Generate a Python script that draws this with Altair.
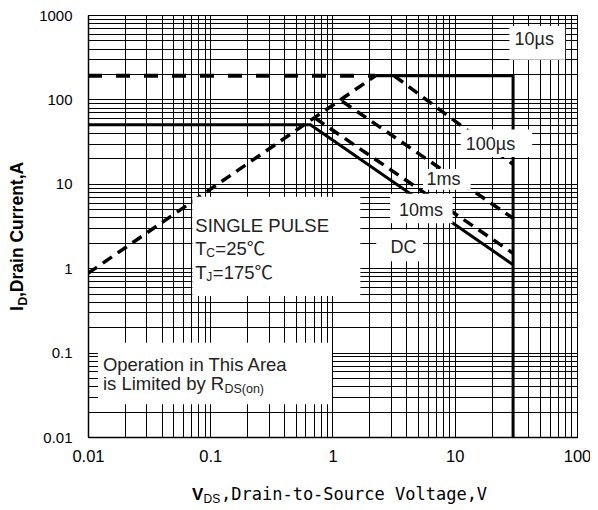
import altair as alt
import pandas as pd

# ---------------- data (V_DS in V, I_D in A) ----------------
# solid curves
pulse10us_v = [2.24, 30, 30]
pulse10us_i = [190, 190, 0.01]
dc_v = [0.01, 0.66, 30]
dc_i = [50, 50, 1.1]
# dashed curves
limit_v = [0.01, 2.24]
limit_i = [190, 190]
rds_v = [0.01, 2.24]
rds_i = [0.87, 190]
pulse100us_v = [3.2, 30]
pulse100us_i = [190, 17]
pulse1ms_v = [1.2, 30]
pulse1ms_i = [95, 3.9]
pulse10ms_v = [0.72, 30]
pulse10ms_i = [60, 1.5]

# curve labels
curve_labels = ["10µs", "100µs", "1ms", "10ms", "DC"]
curve_label_v = [44.7, 19.6, 8.1, 5.3, 3.8]
curve_label_i = [508, 28.8, 11.1, 4.7, 1.72]

# white label backgrounds (covering the grid)
box_v1 = [28, 11.2, 5.5, 2.96, 2.28, 0.0714, 0.01205]
box_v2 = [80, 43, 13.5, 9.6, 5.5, 1.69, 0.99]
box_i1 = [295, 20.8, 8.5, 3.4, 1.21, 0.469, 0.0244]
box_i2 = [743, 44, 15, 7.6, 2.88, 7.03, 0.131]

# axis decades
x_decades = [0.01, 0.1, 1, 10, 100]
y_decades = [0.01, 0.1, 1, 10, 100, 1000]
mantissas = [1, 2, 3, 4, 5, 6, 7, 8, 9]

x_grid = [round(m * d, 6) for d in x_decades[:-1] for m in mantissas] + [x_decades[-1]]
y_grid = [round(m * d, 6) for d in y_decades[:-1] for m in mantissas] + [y_decades[-1]]

FONT = "Liberation Sans, Arial, Noto Sans CJK JP, sans-serif"
TXT = "#222"


def curve_rows(name, vs, ys):
    return [{"curve": name, "v": v, "i": i, "order": k} for k, (v, i) in enumerate(zip(vs, ys))]


solid_df = pd.DataFrame(curve_rows("10µs", pulse10us_v, pulse10us_i) + curve_rows("DC", dc_v, dc_i))
dashed_df = pd.DataFrame(
    curve_rows("RDS", rds_v, rds_i)
    + curve_rows("100µs", pulse100us_v, pulse100us_i)
    + curve_rows("1ms", pulse1ms_v, pulse1ms_i)
    + curve_rows("10ms", pulse10ms_v, pulse10ms_i)
)
limit_df = pd.DataFrame(curve_rows("limit", limit_v, limit_i))
label_df = pd.DataFrame({"text": curve_labels, "v": curve_label_v, "i": curve_label_i})
box_df = pd.DataFrame({"v": box_v1, "v2": box_v2, "i": box_i1, "i2": box_i2})

label_expr = "abs(log(datum.value)/LN10 - round(log(datum.value)/LN10)) < 0.001 ? format(datum.value, '~g') : ''"

x_axis = alt.Axis(values=x_grid, grid=True, gridColor="#000", gridOpacity=1, gridWidth=1,
                  ticks=False, domain=True, domainColor="#000", domainWidth=1.5,
                  labelExpr=label_expr, labelFont=FONT, labelFontSize=16.5, labelColor="#000",
                  labelPadding=11, labelOverlap=False, labelFlush=False, title=None)
y_axis = alt.Axis(values=y_grid, grid=True, gridColor="#000", gridOpacity=1, gridWidth=1,
                  ticks=False, domain=True, domainColor="#000", domainWidth=1.5,
                  labelExpr=label_expr, labelFont=FONT, labelFontSize=15, labelColor="#000",
                  labelPadding=16, labelOverlap=False, labelFlush=False, title=None)
x_scale = alt.Scale(type="log", domain=[0.01, 100])
y_scale = alt.Scale(type="log", domain=[0.01, 1000])


def X(field="v"):
    return alt.X(f"{field}:Q", scale=x_scale, axis=x_axis)


def Y(field="i"):
    return alt.Y(f"{field}:Q", scale=y_scale, axis=y_axis)


def note(df, text, size=18.5, dx=0, dy=0):
    return alt.Chart(df).mark_text(font=FONT, fontSize=size, color=TXT, align="left", baseline="middle",
                                   text=text, dx=dx, dy=dy).encode(x=X(), y=Y())


solid = alt.Chart(solid_df).mark_line(color="#000", strokeWidth=3, clip=True).encode(
    x=X(), y=Y(), detail="curve:N", order="order:Q")
dashed = alt.Chart(dashed_df).mark_line(color="#000", strokeWidth=3.5, strokeDash=[11, 7], clip=True).encode(
    x=X(), y=Y(), detail="curve:N", order="order:Q")
limit = alt.Chart(limit_df).mark_line(color="#000", strokeWidth=4, strokeDash=[14, 14], clip=True).encode(
    x=X(), y=Y(), order="order:Q")

boxes = alt.Chart(box_df).mark_rect(color="white", opacity=1).encode(
    x=X(), x2="v2:Q", y=Y(), y2="i2:Q")

labels = alt.Chart(label_df).mark_text(font=FONT, fontSize=18, color=TXT, align="center", baseline="middle").encode(
    x=X(), y=Y(), text="text:N")

# SINGLE PULSE block
sp_df = pd.DataFrame({"v": [0.0755], "i": [3.12]})
tc_df = pd.DataFrame({"v": [0.0755], "i": [1.7]})
tj_df = pd.DataFrame({"v": [0.0755], "i": [0.873]})
sp_text = note(sp_df, "SINGLE PULSE")
tc_T = note(tc_df, "T")
tc_sub = note(tc_df, "C", size=12, dx=11, dy=4)
tc_rest = note(tc_df, "=25℃", dx=20)
tj_T = note(tj_df, "T")
tj_sub = note(tj_df, "J", size=12, dx=11, dy=4)
tj_rest = note(tj_df, "=175℃", dx=17.5)

# Operation area note
op_df = pd.DataFrame({"v": [0.01324], "i": [0.0722]})
lim_df = pd.DataFrame({"v": [0.01324], "i": [0.042]})
op_text = note(op_df, "Operation in This Area")
lim_text = note(lim_df, "is Limited by R")
lim_sub = note(lim_df, "DS(on)", size=12.5, dx=121.5, dy=5)

# axis titles built from pieces (for subscripts)
dummy = pd.DataFrame({"a": [0]})
yt_I = alt.Chart(dummy).mark_text(font=FONT, fontSize=17.5, fontWeight="bold", color="#000", angle=270,
                                  align="left", baseline="middle").encode(
    text=alt.value("I"), x=alt.value(-70), y=alt.value(296))
yt_D = alt.Chart(dummy).mark_text(font=FONT, fontSize=12, fontWeight="bold", color="#000", angle=270,
                                  align="left", baseline="middle").encode(
    text=alt.value("D"), x=alt.value(-65), y=alt.value(290.5))
yt_rest = alt.Chart(dummy).mark_text(font=FONT, fontSize=17.5, fontWeight="bold", color="#000", angle=270,
                                     align="left", baseline="middle").encode(
    text=alt.value(",Drain Current,A"), x=alt.value(-70), y=alt.value(282))

xt_V = alt.Chart(dummy).mark_text(font=FONT, fontSize=17, fontWeight="bold", color="#000",
                                  align="left", baseline="middle").encode(
    text=alt.value("V"), x=alt.value(104), y=alt.value(480))
xt_DS = alt.Chart(dummy).mark_text(font=FONT, fontSize=12, color="#000",
                                   align="left", baseline="middle").encode(
    text=alt.value("DS"), x=alt.value(115.5), y=alt.value(484))
xt_rest = alt.Chart(dummy).mark_text(font="DejaVu Sans Mono", fontSize=17, color="#000",
                                     align="left", baseline="middle").encode(
    text=alt.value(",Drain-to-Source Voltage,V"), x=alt.value(133), y=alt.value(480))

chart = alt.layer(
    solid, dashed, limit, boxes, labels,
    sp_text, tc_T, tc_sub, tc_rest, tj_T, tj_sub, tj_rest,
    op_text, lim_text, lim_sub,
    yt_I, yt_D, yt_rest, xt_V, xt_DS, xt_rest,
).properties(
    width=489, height=422,
    autosize=alt.AutoSizeParams(type="none"),
    padding={"left": 80, "top": 7, "right": 13, "bottom": 68},
    background="white",
).configure_view(stroke="#333", strokeWidth=1)

chart.save("out.html", embed_options={"renderer": "svg", "actions": False})
